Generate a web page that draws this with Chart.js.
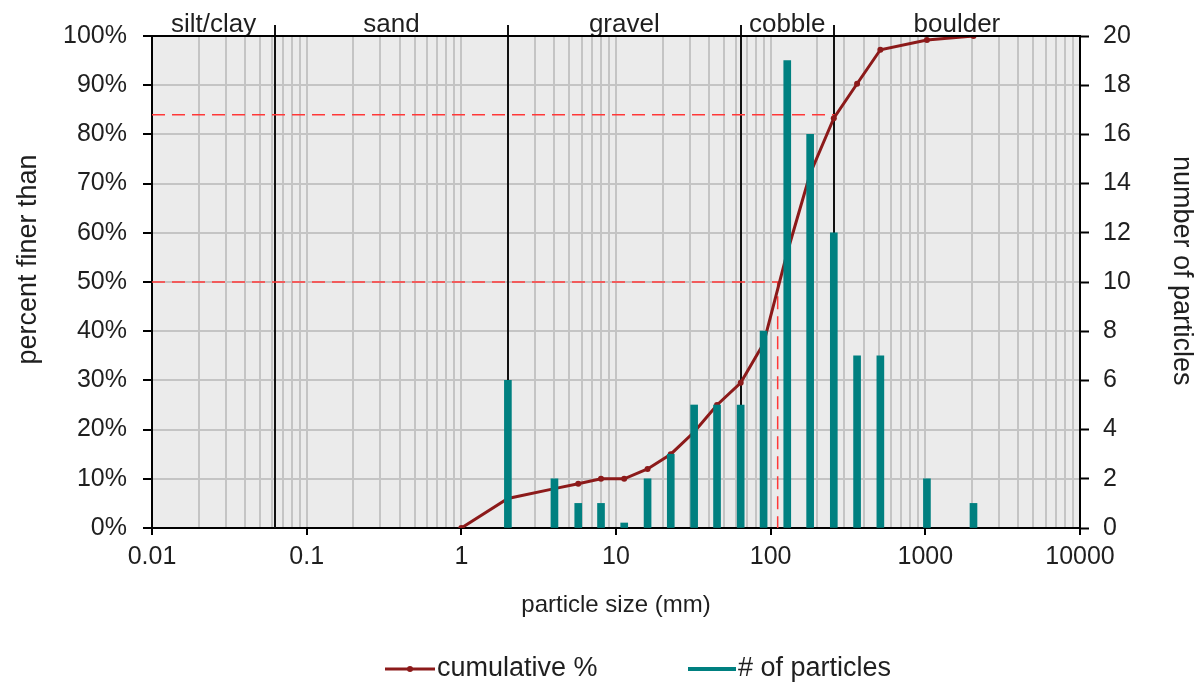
<!DOCTYPE html>
<html><head><meta charset="utf-8">
<script src="https://cdn.jsdelivr.net/npm/chart.js@4.4.1/dist/chart.umd.min.js"></script>
<style>html,body{margin:0;padding:0;background:#fff}</style>
</head><body>
<canvas id="c" width="1200" height="683"></canvas>
<script>
// ---- data ----
const binSizes       = [2, 4, 5.7, 8, 11.3, 16, 22.6, 32, 45, 64, 90, 128, 180, 256, 362, 512, 1024, 2048];
const particleCounts = [6, 2, 1,   1, 0,    2,  3,    5,  5,  5,  8,  19,  16,  12,  7,   7,   2,    1];
const cumSizes       = [1, 2, 4, 5.7, 8, 11.3, 16, 22.6, 32, 45, 64, 90, 128, 180, 256, 362, 512, 1024, 2048];
const cumPercent     = [0, 6, 8, 9,   10, 10,  12, 15,   19.5, 25, 29.5, 37.5, 56, 72, 83.3, 90.3, 97.2, 99.2, 100];
const xMajorTicks    = [0.01, 0.1, 1, 10, 100, 1000, 10000];
const xTickLabels    = ['0.01', '0.1', '1', '10', '100', '1000', '10000'];
const yLeftTickLabels  = ['0%','10%','20%','30%','40%','50%','60%','70%','80%','90%','100%'];
const yRightTickLabels = ['0','2','4','6','8','10','12','14','16','18','20'];
const classBounds    = [0.0625, 2, 64, 256];
const classNames     = ['silt/clay', 'sand', 'gravel', 'cobble', 'boulder'];
const refPercents    = [84, 50];      // D84, D50
const refSizes       = [260, 111];
const legendLabels   = ['cumulative %', '# of particles'];

const FONT = "'Liberation Sans', Arial, sans-serif";
const TXT = '#1f1f1f';
const RED = '#8c1a1a';
const TEAL = '#008080';
const GRID = '#c4c4c4';

const decor = {
  id: 'decor',
  beforeDraw(chart) {
    const {ctx, chartArea: a} = chart;
    ctx.save();
    ctx.fillStyle = '#ebebeb';
    ctx.fillRect(a.left, a.top, a.right - a.left, a.bottom - a.top);
    ctx.restore();
  },
  beforeDatasetsDraw(chart) {
    const {ctx, chartArea: a, scales: {x}} = chart;
    ctx.save();
    ctx.strokeStyle = '#111';
    ctx.lineWidth = 2;
    classBounds.forEach(b => {
      const px = Math.round(x.getPixelForValue(b));
      ctx.beginPath(); ctx.moveTo(px, a.top - 11); ctx.lineTo(px, a.bottom); ctx.stroke();
    });
    const edges = [x.min, ...classBounds, x.max].map(v => x.getPixelForValue(v));
    ctx.font = '26px ' + FONT;
    ctx.fillStyle = TXT;
    ctx.textAlign = 'center';
    ctx.textBaseline = 'alphabetic';
    classNames.forEach((n, i) => ctx.fillText(n, (edges[i] + edges[i + 1]) / 2, a.top - 4));
    ctx.restore();
  },
  afterDraw(chart) {
    const {ctx, chartArea: a} = chart;
    ctx.save();
    ctx.strokeStyle = '#000';
    ctx.lineWidth = 2;
    ctx.beginPath(); ctx.moveTo(a.left, a.top); ctx.lineTo(a.right, a.top); ctx.stroke();
    // legend
    const ly = 669;
    ctx.font = '27px ' + FONT;
    ctx.textAlign = 'left';
    ctx.textBaseline = 'middle';
    // item 1
    ctx.strokeStyle = RED; ctx.lineWidth = 3;
    ctx.beginPath(); ctx.moveTo(385, ly); ctx.lineTo(435, ly); ctx.stroke();
    ctx.fillStyle = RED; ctx.beginPath(); ctx.arc(410, ly, 3, 0, Math.PI * 2); ctx.fill();
    ctx.fillStyle = TXT; ctx.fillText(legendLabels[0], 437, ly);
    // item 2
    ctx.strokeStyle = TEAL; ctx.lineWidth = 4;
    ctx.beginPath(); ctx.moveTo(688, ly); ctx.lineTo(736, ly); ctx.stroke();
    ctx.fillText(legendLabels[1], 738, ly);
    ctx.restore();
  }
};

const font25 = {family: FONT, size: 25};
const font24 = {family: FONT, size: 24};
const font27 = {family: FONT, size: 27};

new Chart(document.getElementById('c'), {
  type: 'bar',
  data: {
    datasets: [
      {
        type: 'bar', label: legendLabels[1],
        data: binSizes.map((s, i) => ({x: s, y: particleCounts[i]})),
        backgroundColor: TEAL, borderWidth: 0,
        barThickness: 7, minBarLength: 5,
        xAxisID: 'x', yAxisID: 'y1', order: 0
      },
      {
        type: 'line', label: legendLabels[0],
        data: cumSizes.map((s, i) => ({x: s, y: cumPercent[i]})),
        borderColor: RED, backgroundColor: RED, borderWidth: 3,
        pointRadius: 3, pointBackgroundColor: RED, pointBorderWidth: 0,
        tension: 0, xAxisID: 'x', yAxisID: 'y', order: 1
      },
      {
        type: 'line', label: 'D84',
        data: [{x: 0.01, y: refPercents[0]}, {x: refSizes[0], y: refPercents[0]}],
        borderColor: '#ff3838', borderWidth: 1.5, borderDash: [13, 7],
        pointRadius: 0, xAxisID: 'x', yAxisID: 'y', order: 2
      },
      {
        type: 'line', label: 'D50',
        data: [{x: 0.01, y: refPercents[1]}, {x: refSizes[1], y: refPercents[1]}, {x: refSizes[1], y: 0}],
        borderColor: '#ff3838', borderWidth: 1.5, borderDash: [13, 7],
        pointRadius: 0, xAxisID: 'x', yAxisID: 'y', order: 2
      }
    ]
  },
  options: {
    responsive: false,
    animation: false,
    layout: {padding: {top: 36, left: 0, right: 0, bottom: 0}},
    plugins: {legend: {display: false}, tooltip: {enabled: false}},
    scales: {
      x: {
        type: 'logarithmic', position: 'bottom', min: 0.01, max: 10000, offset: false,
        afterBuildTicks(s) {
          const t = [];
          xMajorTicks.forEach((m, i) => {
            if (i === xMajorTicks.length - 1) { t.push({value: m, major: true}); return; }
            for (let k = 1; k < 10; k++) t.push({value: m * k, major: k === 1});
          });
          s.ticks = t;
        },
        ticks: {
          autoSkip: false, maxRotation: 0, minRotation: 0, padding: 7,
          font: font25, color: TXT,
          callback(v, i, ticks) {
            const t = ticks[i];
            if (!t || !t.major) return '';
            const j = xMajorTicks.indexOf(t.value);
            return j >= 0 ? xTickLabels[j] : '';
          }
        },
        grid: {
          offset: false, color: GRID, lineWidth: 2, tickLength: 7, tickWidth: 2,
          tickColor: c => (c.tick && c.tick.major) ? '#000' : 'rgba(0,0,0,0)'
        },
        border: {color: '#000', width: 2},
        title: {display: true, text: 'particle size (mm)', font: font24, color: TXT, padding: {top: 0, bottom: 63}},
        afterFit(s) { s.height = 155; }
      },
      y: {
        type: 'linear', position: 'left', min: 0, max: 100,
        ticks: {stepSize: 10, padding: 16, font: font25, color: TXT, callback: (v, i) => yLeftTickLabels[i]},
        grid: {color: GRID, lineWidth: 2, tickLength: 9, tickWidth: 2, tickColor: '#000'},
        border: {color: '#000', width: 2},
        title: {display: true, text: '      percent finer than', font: font27, color: TXT, padding: {top: 12, bottom: 0}},
        afterFit(s) { s.width = 152; }
      },
      y1: {
        type: 'linear', position: 'right', min: 0, max: 20,
        ticks: {stepSize: 2, padding: 14, font: font25, color: TXT, callback: (v, i) => yRightTickLabels[i]},
        grid: {drawOnChartArea: false, tickLength: 9, tickWidth: 2, tickColor: '#000'},
        border: {color: '#000', width: 2},
        title: {display: true, text: 'number of particles   ', font: font27, color: TXT, padding: {top: 2, bottom: 0}},
        afterFit(s) { s.width = 120; }
      }
    }
  },
  plugins: [decor]
});
</script>
</body></html>
